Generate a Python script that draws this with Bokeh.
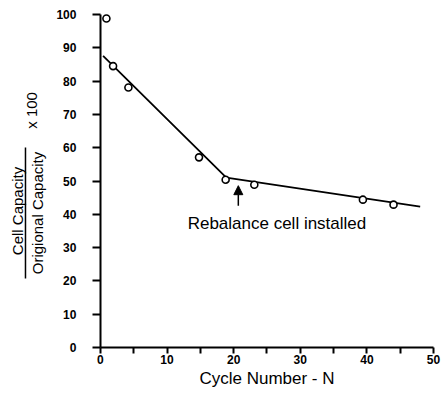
import math
from bokeh.plotting import figure
from bokeh.models import Label, Arrow, NormalHead, Range1d, FixedTicker, LinearAxis
from bokeh.embed import file_html
from bokeh.resources import INLINE

# Data
cycle = [0.9, 1.9, 4.2, 14.8, 18.8, 23.1, 39.4, 44.0]
capacity = [98.8, 84.5, 78.1, 57.1, 50.4, 48.9, 44.4, 42.9]
fit_cycle = [0.4, 18.9, 48.0]
fit_capacity = [87.6, 51.0, 42.3]
x_ticks = [0, 10, 20, 30, 40, 50]
x_minor_ticks = [5, 15, 25, 35, 45]
y_ticks = [0, 10, 20, 30, 40, 50, 60, 70, 80, 90, 100]
rebalance_cycle = 20.7
rebalance_arrow = [42.6, 48.6]

FONT = "Liberation Sans"

# frame covers the whole canvas; axes are fixed at data 0
p = figure(width=441, height=400, output_backend="svg", toolbar_location=None,
           x_range=Range1d(-15.0, 51.2), y_range=Range1d(-15.9, 104.2),
           x_axis_location=None, y_axis_location=None,
           min_border=0, title=None)
p.outline_line_color = None
p.grid.visible = False
p.background_fill_color = "white"
p.border_fill_color = "white"

xaxis = LinearAxis(fixed_location=0, bounds=(0, 50))
yaxis = LinearAxis(fixed_location=0, bounds=(0, 100))
p.add_layout(xaxis, "below")
p.add_layout(yaxis, "left")

for ax in (xaxis, yaxis):
    ax.axis_line_width = 2
    ax.axis_line_color = "black"
    ax.major_tick_line_width = 2
    ax.major_tick_line_color = "black"
    ax.major_tick_in = 0
    ax.major_label_text_font = FONT
    ax.major_label_text_font_style = "bold"
    ax.major_label_text_font_size = "12px"
    ax.major_label_text_color = "black"
    ax.axis_label_text_color = "black"

xaxis.ticker = FixedTicker(ticks=x_ticks, minor_ticks=x_minor_ticks)
xaxis.major_tick_out = 6
xaxis.minor_tick_out = 6
xaxis.minor_tick_in = 0
xaxis.minor_tick_line_width = 2
xaxis.minor_tick_line_color = "black"
xaxis.major_label_standoff = 1
xaxis.axis_label = "Cycle Number - N"
xaxis.axis_label_text_font = FONT
xaxis.axis_label_text_font_style = "normal"
xaxis.axis_label_text_font_size = "17px"
xaxis.axis_label_standoff = 2

yaxis.ticker = FixedTicker(ticks=y_ticks)
yaxis.minor_tick_line_color = None
yaxis.major_tick_out = 8
yaxis.major_label_standoff = 16

# fitted line and points
p.line(fit_cycle, fit_capacity, line_color="black", line_width=1.8)
p.scatter(cycle, capacity, size=7, marker="circle", fill_color="white",
          line_color="black", line_width=1.6)

# annotation
p.add_layout(Arrow(end=NormalHead(size=9, fill_color="black", line_color="black"),
                   x_start=rebalance_cycle, y_start=rebalance_arrow[0],
                   x_end=rebalance_cycle, y_end=rebalance_arrow[1],
                   line_width=1.5, line_color="black"))
p.add_layout(Label(x=26.5, y=37.3, text="Rebalance cell installed",
                   text_align="center", text_baseline="alphabetic",
                   text_font=FONT, text_font_size="17px", text_color="black"))

# y-axis label drawn as a fraction
p.add_layout(Label(x=-12.45, y=41.0, angle=math.pi / 2, text="Cell Capacity",
                   text_align="center", text_baseline="alphabetic",
                   text_font=FONT, text_font_size="15px", text_color="black"))
p.add_layout(Label(x=-9.45, y=40.4, angle=math.pi / 2, text="Origional Capacity",
                   text_align="center", text_baseline="alphabetic",
                   text_font=FONT, text_font_size="15px", text_color="black"))
p.add_layout(Label(x=-10.3, y=71.2, angle=math.pi / 2, text="x 100",
                   text_align="center", text_baseline="alphabetic",
                   text_font=FONT, text_font_size="15px", text_color="black"))
p.add_layout(Arrow(end=None, start=None, x_start=-11.25, y_start=20.7,
                   x_end=-11.25, y_end=60.1, line_width=1.5, line_color="black"))

open("out.html", "w").write(file_html(p, INLINE))
